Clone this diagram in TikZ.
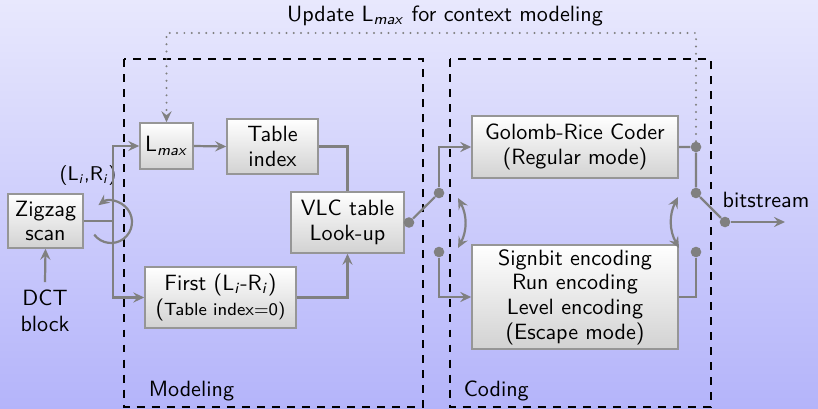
\documentclass[tikz,border=0pt]{standalone}
\usetikzlibrary{arrows.meta}

\definecolor{bgtop}{RGB}{232,232,253}
\definecolor{bgbot}{RGB}{180,180,250}
\definecolor{wire}{RGB}{128,128,128}
\definecolor{boxedge}{RGB}{150,150,150}
\definecolor{boxbot}{RGB}{210,210,210}

\newcommand{\sub}[1]{\textsubscript{\textit{#1}}}

\begin{document}
\begin{tikzpicture}[x=0.4525pt,y=-0.4525pt,font=\sffamily,
  block/.style={draw=boxedge,line width=0.7pt,top color=white,bottom color=boxbot,
    align=center,inner sep=0pt,font=\sffamily\fontsize{10}{11.2}\selectfont},
  wire/.style={draw=wire,line width=1pt},
  tip/.tip={Stealth[length=5pt,width=4.6pt,inset=1.8pt]},
  arr/.style={wire,-tip},
  twoway/.style={wire,tip-tip},
  dot/.style={circle,fill=wire,inner sep=0pt,minimum size=4.8pt},
  region/.style={draw=black,line width=1.1pt,dash pattern=on 3.6pt off 3.2pt},
  feedback/.style={draw=wire,line width=1pt,line cap=round,dash pattern=on 0pt off 3.3pt}
]
% background
\shade[top color=bgtop,bottom color=bgbot] (0,0) rectangle (818,409);
\useasboundingbox (0,0) rectangle (818,409);

% dashed regions
\draw[region] (124,59) rectangle (423,407);
\draw[region] (450,59) rectangle (711,407);
\node[anchor=base west] (modlabel) at (141,396) {Modeling};
\node[anchor=base west] (codlabel) at (456,396) {Coding};

% blocks
\node[block,minimum width=34pt,minimum height=24.4pt] (zz) at (45.5,221) {Zigzag\\scan};
\node[align=center,font=\sffamily\fontsize{10}{11.8}\selectfont] (dct) at (45,311) {DCT\\block};
\node[block,minimum width=24pt,minimum height=20.8pt] (lmax) at (166.5,146) {L\sub{max}};
\node[block,minimum width=41.2pt,minimum height=24.9pt] (tidx) at (272.5,146.5) {Table\\index};
\node[block,minimum width=51.1pt,minimum height=27.6pt] (vlc) at (347.5,222.5) {VLC table\\Look-up};
\node[block,minimum width=68.3pt,minimum height=27.6pt] (first) at (220.5,297.5)
  {First (L\sub{i}-R\sub{i})\\({\footnotesize Table index$=$0)}};
\node[block,minimum width=93.2pt,minimum height=28.1pt] (grc) at (575,147) {Golomb-Rice Coder\\(Regular mode)};
\node[block,minimum width=93.2pt,minimum height=47.1pt] (esc) at (575,297)
  {Signbit encoding\\Run encoding\\Level encoding\\(Escape mode)};

% labels
\node (title) at (445,16) {Update L\sub{max} for context modeling};
\node[font=\sffamily\small] (lrlabel) at (88,176) {(L\sub{i},R\sub{i})};
\node (bits) at (766,200) {bitstream};

% modeling connectors
\draw[arr] (dct.north) -- (zz.south);
\coordinate (jn) at (113,221);
\draw[wire] (zz.east) -- (jn);
\draw[arr] (jn) |- (lmax.west);
\draw[arr] (jn) |- (first.west);
\draw[arr] (111,222) ++(143:21) arc[start angle=143,end angle=-127,radius=21];
\draw[arr] (lmax.east) -- (tidx.west);
\draw[wire] (tidx.east) -| (vlc.north);
\draw[arr] (first.east) -| (vlc.south);

% input switch
\node[dot] (vo) at (409,222.5) {};
\node[dot] (s1) at (439,193) {};
\node[dot] (s2) at (439,252) {};
\draw[wire] (vo) -- (s1);
\draw[arr] (s1) |- (grc.west);
\draw[arr] (s2) |- (esc.west);
\coordinate (sa) at (458,198);
\coordinate (sb) at (458,248);
\draw[twoway] (sa) to[bend left=28] (sb);

% output switch
\node[dot] (r1) at (696,147) {};
\node[dot] (r2) at (696,193) {};
\node[dot] (r3) at (725,222) {};
\node[dot] (r4) at (696,252) {};
\draw[wire] (grc.east) -- (r1) -- (r2) -- (r3);
\coordinate (out) at (785,222);
\draw[arr] (r3) -- (out);
\draw[wire] (r4) |- (esc.east);
\coordinate (ta) at (678,197);
\coordinate (tb) at (679,248);
\draw[twoway] (ta) to[bend right=28] (tb);

% feedback of L_max
\coordinate (fb) at (696,33);
\draw[feedback,-tip] (r1.north) -- (fb) -| (lmax.north);
\end{tikzpicture}
\end{document}
